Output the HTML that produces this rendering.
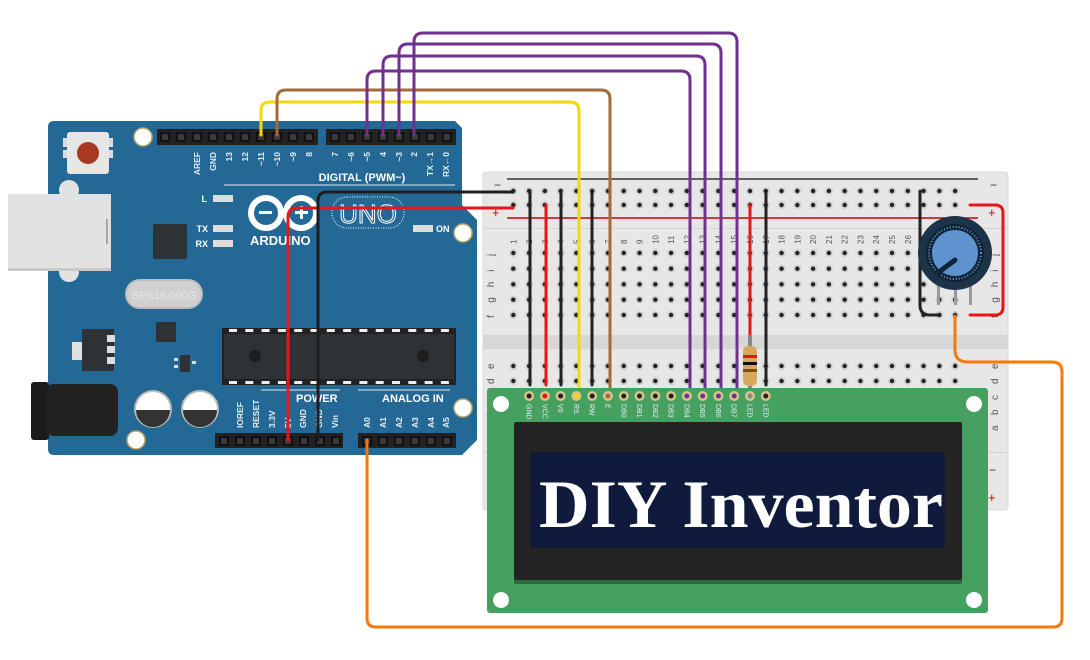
<!DOCTYPE html>
<html><head><meta charset="utf-8"><style>
html,body{margin:0;padding:0;background:#fff;width:1090px;height:660px;overflow:hidden}
svg{display:block}
text{font-family:"Liberation Sans",sans-serif}
</style></head><body>
<svg id="s" width="1090" height="660" viewBox="0 0 1090 660" xmlns="http://www.w3.org/2000/svg">
<rect width="1090" height="660" fill="#fff"/>
<path d="M54,121 H455 L462,128 V205 L477,220 V440 L462,455 H54 Q48,455 48,449 V127 Q48,121 54,121Z" fill="#246895"/>
<circle cx="69" cy="190" r="10" fill="#e2e2e2"/><circle cx="69" cy="272" r="10" fill="#e2e2e2"/>
<rect x="8" y="194" width="103" height="76" fill="#e2e2e2"/><rect x="8" y="268" width="103" height="3" fill="#c9c9c9"/>
<rect x="106" y="219" width="2" height="25" fill="#aaa"/>
<rect x="63" y="138" width="6" height="9" fill="#ddd"/><rect x="63" y="150" width="6" height="8" fill="#ddd"/><rect x="107" y="138" width="6" height="9" fill="#ddd"/><rect x="107" y="150" width="6" height="8" fill="#ddd"/>
<rect x="67" y="132" width="42" height="42" rx="3" fill="#e6e6e6"/>
<circle cx="88" cy="153" r="11" fill="#a6391f"/>
<circle cx="143" cy="137" r="9" fill="#fff" stroke="#b9a66a" stroke-width="1.5"/>
<circle cx="463" cy="233" r="9" fill="#fff" stroke="#b9a66a" stroke-width="1.5"/>
<circle cx="463" cy="408" r="9" fill="#fff" stroke="#b9a66a" stroke-width="1.5"/>
<circle cx="136" cy="440" r="9" fill="#fff" stroke="#b9a66a" stroke-width="1.5"/>
<rect x="153" y="224" width="34" height="35" rx="2" fill="#2f3235"/>
<rect x="126" y="280" width="76" height="28" rx="14" fill="#d0d0d0" stroke="#bdbdbd" stroke-width="2"/>
<text x="164" y="299" font-size="11" fill="#e6e6e6" text-anchor="middle">SPK16.000G</text>
<rect x="156" y="322" width="20" height="20" fill="#2f3235"/>
<rect x="72" y="342" width="12" height="18" fill="#e0e0e0"/>
<rect x="82" y="329" width="32" height="42" fill="#2f3235"/>
<rect x="107" y="335" width="8" height="7" fill="#ddd"/><rect x="107" y="346" width="8" height="7" fill="#ddd"/><rect x="107" y="357" width="8" height="7" fill="#ddd"/>
<rect x="180" y="355" width="10" height="17" fill="#2f3235"/>
<rect x="174" y="358" width="4" height="3" fill="#ddd"/><rect x="174" y="365" width="4" height="3" fill="#ddd"/><rect x="192" y="361" width="4" height="3" fill="#ddd"/>
<rect x="31" y="382" width="18" height="58" rx="3" fill="#1a1a1a"/>
<rect x="46" y="384" width="72" height="52" rx="8" fill="#222"/>
<circle cx="153" cy="409" r="19" fill="#bbb"/><circle cx="153" cy="409" r="17" fill="#fff"/><path d="M136,410 H170 A17,17 0 0 1 136,410Z" fill="#333"/>
<circle cx="200" cy="409" r="19" fill="#bbb"/><circle cx="200" cy="409" r="17" fill="#fff"/><path d="M183,410 H217 A17,17 0 0 1 183,410Z" fill="#333"/>
<rect x="222" y="328" width="234" height="57" fill="#222"/>
<rect x="224" y="334" width="230" height="45" fill="#2f3235"/>
<circle cx="255" cy="356" r="6" fill="#1d1d1d"/><circle cx="423" cy="356" r="6" fill="#1d1d1d"/>
<g id="icpins" fill="#eee"></g>
<text x="207" y="202" font-size="9" font-weight="bold" fill="#fff" text-anchor="end">L</text>
<text x="208" y="232" font-size="9" font-weight="bold" fill="#fff" text-anchor="end">TX</text>
<text x="208" y="247" font-size="9" font-weight="bold" fill="#fff" text-anchor="end">RX</text>
<rect x="213" y="195" width="20" height="7" fill="#ddd"/><rect x="213" y="225" width="20" height="7" fill="#ddd"/><rect x="213" y="240" width="20" height="7" fill="#ddd"/>
<rect x="413" y="225" width="20" height="7" fill="#ddd"/>
<text x="436" y="232" font-size="9" font-weight="bold" fill="#fff">ON</text>
<circle cx="266" cy="213" r="15" fill="none" stroke="#fff" stroke-width="6"/>
<circle cx="301" cy="213" r="15" fill="none" stroke="#fff" stroke-width="6"/>
<rect x="259" y="211" width="13" height="3" fill="#fff"/><rect x="295" y="211" width="13" height="3" fill="#fff"/><rect x="300" y="206" width="3" height="13" fill="#fff"/>
<text x="250" y="245" font-size="13" font-weight="bold" fill="#fff">ARDUINO</text>
<rect x="332" y="197" width="72" height="31" rx="15" fill="none" stroke="#fff" stroke-width="1" stroke-dasharray="1,1.5"/>
<text x="368" y="223" font-size="26" fill="none" stroke="#fff" stroke-width="1" text-anchor="middle">UNO</text>
<rect x="157" y="129" width="161" height="16" fill="#222"/>
<rect x="326" y="129" width="130" height="16" fill="#222"/>
<rect x="215" y="433" width="128" height="15" fill="#222"/>
<rect x="358" y="433" width="98" height="15" fill="#222"/>
<g id="hdr"></g>
<line x1="224" y1="185" x2="455" y2="185" stroke="#dfe8f0" stroke-width="1"/>
<text x="362" y="181" font-size="11" font-weight="bold" fill="#fff" text-anchor="middle">DIGITAL (PWM~)</text>
<line x1="261" y1="390" x2="340" y2="390" stroke="#dfe8f0" stroke-width="1"/>
<line x1="358" y1="390" x2="450" y2="390" stroke="#dfe8f0" stroke-width="1"/>
<g id="hlab" font-size="8.5" font-weight="bold" fill="#e8eef4"></g>
<text x="296" y="402" font-size="11" font-weight="bold" fill="#fff">POWER</text>
<text x="382" y="402" font-size="11" font-weight="bold" fill="#fff">ANALOG IN</text>

<rect x="483" y="172" width="525" height="338" rx="3" fill="#e7e7e7" stroke="#d8d8d8"/>
<rect x="483" y="228" width="525" height="1" fill="#d4d4d4"/>
<rect x="483" y="335" width="525" height="14" fill="#d7d7d7"/>
<rect x="483" y="452" width="525" height="1" fill="#d4d4d4"/>
<line x1="507" y1="179" x2="978" y2="179" stroke="#333" stroke-width="1.5"/>
<line x1="507" y1="218" x2="978" y2="218" stroke="#c00" stroke-width="1.5"/>
<text x="494" y="189" font-size="12" fill="#333">−</text><text x="492" y="217" font-size="13" fill="#c00">+</text>
<text x="990" y="189" font-size="12" fill="#333">−</text><text x="988" y="217" font-size="13" fill="#c00">+</text>
<text x="989" y="474" font-size="12" fill="#333">−</text><text x="988" y="502" font-size="13" fill="#c00">+</text>
<g id="bb"></g>

<g fill="none" stroke-linecap="round" stroke-linejoin="round" stroke-width="3">
<path d="M288,440 V217 Q288,208 297,208 H513" stroke="#e8161a"/>
<path d="M318,440 V201 Q318,192 327,192 H513" stroke="#1f1f1f"/>
<path d="M367,440 V618 Q367,627 376,627 H1053 Q1062,627 1062,618 V372 Q1062,362 1052,362 H968 Q955,362 955,350 V316" stroke="#f47a0a"/>
<path d="M530,191 V385" stroke="#222"/>
<path d="M546,205 V385" stroke="#e8161a"/>
<path d="M561,191 V385" stroke="#222"/>
<path d="M592,191 V385" stroke="#222"/>
<path d="M766,191 V385" stroke="#222"/>
<path d="M750,205 V340" stroke="#e8161a"/>
<path d="M920,191 V305 Q920,315 930,315 H940" stroke="#222"/>
<path d="M970,205 H995 Q1003,205 1003,213 V307 Q1003,315 995,315 H970" stroke="#e8161a"/>
<path d="M261,135 V110 Q261,102 270,102 H570 Q579,102 579,111 V396" stroke="#f5d90a"/>
<path d="M277,135 V99 Q277,90 286,90 H601 Q610,90 610,99 V396" stroke="#a46a3c"/>
<path d="M367,135 V80 Q367,71 376,71 H681 Q690,71 690,80 V396" stroke="#71308f"/>
<path d="M383,135 V65 Q383,56 392,56 H696 Q705,56 705,65 V396" stroke="#71308f"/>
<path d="M399,135 V53 Q399,44 408,44 H712 Q721,44 721,53 V396" stroke="#71308f"/>
<path d="M414,135 V42 Q414,33 423,33 H728 Q737,33 737,42 V396" stroke="#71308f"/>
</g>
<rect x="748" y="335" width="4" height="60" fill="#888"/>
<rect x="743" y="346" width="14" height="40" rx="5" fill="#d6a75d"/>
<rect x="743" y="355" width="14" height="3" fill="#e8161a"/><rect x="743" y="362" width="14" height="3" fill="#111"/><rect x="743" y="369" width="14" height="3" fill="#7b4a1e"/>
<rect x="937" y="285" width="3" height="20" fill="#999"/><rect x="954" y="285" width="3" height="20" fill="#999"/><rect x="969" y="285" width="3" height="20" fill="#999"/>
<circle cx="955" cy="253" r="37" fill="#1d3448"/>
<circle cx="955" cy="253" r="29" fill="#0f2436"/>
<circle cx="955" cy="253" r="26" fill="none" stroke="#6a9fd4" stroke-width="2" stroke-dasharray="1,2"/>
<circle cx="955" cy="253" r="23" fill="#5e93cf"/>
<line x1="955" y1="260" x2="939" y2="272" stroke="#0f2436" stroke-width="5" stroke-linecap="round"/>

<rect x="487" y="388" width="501" height="225" rx="3" fill="#46a05f"/>
<circle cx="501" cy="404" r="8" fill="#fff"/><circle cx="974" cy="404" r="8" fill="#fff"/>
<circle cx="501" cy="600" r="8" fill="#fff"/><circle cx="974" cy="600" r="8" fill="#fff"/>
<rect x="514" y="426" width="448" height="158" rx="2" fill="#2f6b3e"/>
<rect x="514" y="422" width="448" height="158" rx="2" fill="#242424"/>
<rect x="530" y="452" width="415" height="96" rx="2" fill="#0f1a3c"/>
<text x="539" y="527" style="font-family:'Liberation Serif',serif" font-size="68" font-weight="bold" fill="#fff" textLength="404" lengthAdjust="spacingAndGlyphs">DIY Inventor</text>
<g id="lcd"></g>
</svg>
<script>
(function(){
var NS="http://www.w3.org/2000/svg";
function el(p,t,a,txt){var e=document.createElementNS(NS,t);for(var k in a)e.setAttribute(k,a[k]);if(txt!==undefined)e.textContent=txt;p.appendChild(e);return e;}
var ic=document.getElementById('icpins');
for(var i=0;i<14;i++){var x=229+i*16.3;el(ic,'rect',{x:x,y:329,width:8,height:3});el(ic,'rect',{x:x,y:381,width:8,height:3});}
var h=document.getElementById('hdr');
function pins(x0,n,y){for(var i=0;i<n;i++){el(h,'rect',{x:x0+i*16-5,y:y,width:10,height:10,fill:'#111'});el(h,'rect',{x:x0+i*16-3,y:y+2,width:6,height:6,fill:'#3a3a3a'});}}
pins(165,10,132);pins(335,8,132);pins(224,8,436);pins(367,6,436);
var hl=document.getElementById('hlab');
function vl(x,y,t,anc){el(hl,'text',{x:0,y:0,'text-anchor':anc,transform:'translate('+(x+3)+','+y+') rotate(-90)'},t);}
var tl=[[197,'AREF'],[213,'GND'],[229,'13'],[245,'12'],[261,'~11'],[277,'~10'],[293,'~9'],[309,'8'],[335,'7'],[351,'~6'],[367,'~5'],[383,'4'],[399,'~3'],[414,'2'],[430,'TX→1'],[446,'RX←0']];
tl.forEach(function(a){vl(a[0],152,a[1],'end');});
var bl=[[240,'IOREF'],[256,'RESET'],[272,'3.3V'],[288,'5V'],[303,'GND'],[319,'GND'],[335,'Vin'],[367,'A0'],[383,'A1'],[399,'A2'],[415,'A3'],[431,'A4'],[446,'A5']];
bl.forEach(function(a){vl(a[0],428,a[1],'start');});
var bb=document.getElementById('bb');
function cx(c){return 513.3+(c-1)*15.78;}
function hole(x,y){el(bb,'circle',{cx:x,cy:y,r:4,fill:'#cfcfcf'});el(bb,'circle',{cx:x,cy:y,r:2.2,fill:'#222'});}
var rows=[191,205,253,268.7,284.3,299.7,315,366,381,397,412,428,470,495];
for(var c=1;c<=29;c++){rows.forEach(function(y){hole(cx(c),y);});
 el(bb,'text',{x:0,y:0,'font-size':8,fill:'#555',transform:'translate('+(cx(c)+3)+',244) rotate(-90)'},String(c));}
var L=['j','i','h','g','f','e','d','c','b','a'],LY=[253,268.7,284.3,299.7,315,366,381,397,412,428];
L.forEach(function(l,i){el(bb,'text',{x:0,y:0,'font-size':10,fill:'#555',transform:'translate(494,'+(LY[i]+3)+') rotate(-90)'},l);
el(bb,'text',{x:0,y:0,'font-size':10,fill:'#555',transform:'translate(998,'+(LY[i]+3)+') rotate(-90)'},l);});
var lcd=document.getElementById('lcd');
var names=['GND','VCC','V0','RS','RW','E','DB0','DB1','DB2','DB3','DB4','DB5','DB6','DB7','LED','LED'];
var cols=['#222','#e8161a','#222','#f5d90a','#222','#a46a3c','#222','#222','#222','#222','#71308f','#71308f','#71308f','#71308f','#888','#222'];
for(var i=0;i<16;i++){var x=cx(i+2);el(lcd,'circle',{cx:x,cy:396,r:5,fill:'#d9c38c'});el(lcd,'circle',{cx:x,cy:396,r:2.5,fill:cols[i]});
el(lcd,'text',{x:0,y:0,'font-size':7,fill:'#eef',transform:'translate('+(x-2.5)+',404) rotate(90)'},names[i]);}
})();
</script>
</body></html>
